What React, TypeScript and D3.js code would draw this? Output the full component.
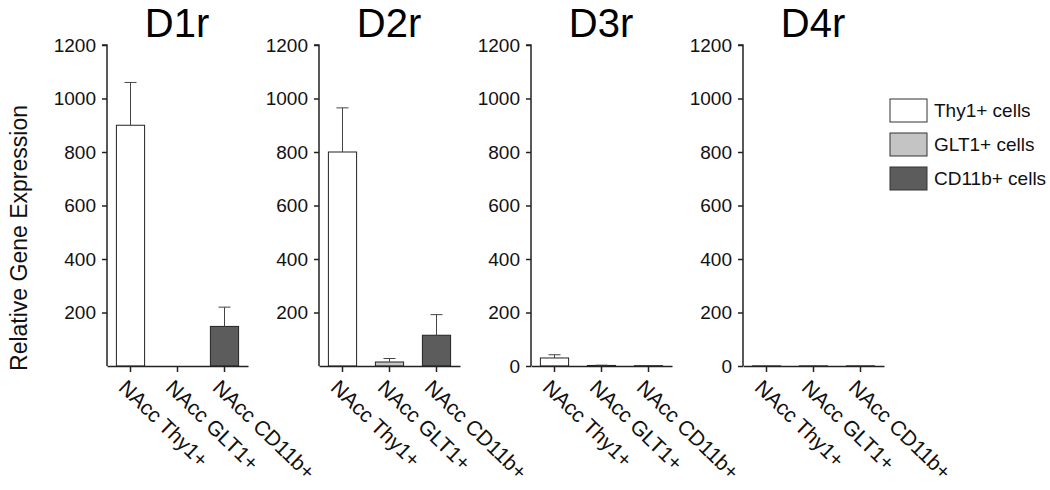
import React, { useEffect, useRef } from 'react';
import * as d3 from "d3";

const panels = ["D1r", "D2r", "D3r", "D4r"];
const groups = ["NAcc Thy1+", "NAcc GLT1+", "NAcc CD11b+"];
const cellTypes = ["Thy1+ cells", "GLT1+ cells", "CD11b+ cells"];
const colors = ["#ffffff", "#c4c4c4", "#5c5c5c"];
const yTicks = [0, 200, 400, 600, 800, 1000, 1200];

// mean expression per panel (Thy1, GLT1, CD11b)
const means = [
    [900, 0, 148],
    [800, 15, 115],
    [30, 2, 1],
    [0.5, 0.5, 0.5],
];
// error (upper only)
const errors = [
    [160, 0, 72],
    [165, 13, 77],
    [12, 1, 0],
    [0, 0, 0],
];

const App = () => {
    const svgRef = useRef<SVGSVGElement>(null);

    useEffect(() => {
        document.body.style.margin = "0";
        const svg = d3.select(svgRef.current);
        svg.selectAll("*").remove();
        const font = "Arial, 'Liberation Sans', sans-serif";

        const y = d3.scaleLinear().domain([0, 1200]).range([366, 45]);
        const panelX = d3.scalePoint().domain(panels).range([107, 743]);

        panels.forEach((p, i) => {
            const x0 = panelX(p)!;
            const x = d3.scaleBand().domain(groups).range([x0, x0 + 141]).paddingInner(0.4).paddingOuter(0.2);
            const g = svg.append("g");

            g.append("text").attr("x", x0 + 70).attr("y", 37).attr("text-anchor", "middle")
                .style("font-family", font).style("font-size", "40px").text(p);

            // bars
            g.selectAll("rect.bar").data(groups).enter().append("rect")
                .attr("x", (d) => x(d)!)
                .attr("width", x.bandwidth())
                .attr("y", (d, j) => y(means[i][j]))
                .attr("height", (d, j) => y(0) - y(means[i][j]))
                .attr("fill", (d, j) => colors[j])
                .attr("stroke", "#222").attr("stroke-width", 1);

            // error bars
            groups.forEach((grp, j) => {
                if (errors[i][j] <= 0) return;
                const cx = x(grp)! + x.bandwidth() / 2;
                const top = y(means[i][j] + errors[i][j]);
                g.append("line").attr("x1", cx).attr("x2", cx).attr("y1", y(means[i][j])).attr("y2", top)
                    .attr("stroke", "#444").attr("stroke-width", 1);
                g.append("line").attr("x1", cx - 6).attr("x2", cx + 6).attr("y1", top).attr("y2", top)
                    .attr("stroke", "#444").attr("stroke-width", 1);
            });

            // y axis
            const ya = g.append("g").attr("transform", `translate(${x0},0)`)
                .call(d3.axisLeft(y).tickValues(i < 2 ? yTicks.slice(1) : yTicks).tickSize(5).tickPadding(6).tickFormat(d3.format("d")));
            ya.select(".domain").attr("d", `M-5,${y(1200)}H0V${y(0)}`).attr("stroke", "#222").attr("stroke-width", 1.5);
            ya.selectAll(".tick line").attr("stroke", "#222").attr("stroke-width", 1.5);
            ya.selectAll("text").style("font-family", font).style("font-size", "19px").attr("fill", "#111");

            // x axis
            const xa = g.append("g").attr("transform", `translate(0,${y(0)})`)
                .call(d3.axisBottom(x).tickSize(6).tickSizeOuter(0));
            xa.select(".domain").attr("stroke", "#222").attr("stroke-width", 1.5);
            xa.selectAll(".tick line").attr("stroke", "#222").attr("stroke-width", 1.5);
            xa.selectAll("text")
                .attr("text-anchor", "start")
                .attr("dy", "0")
                .attr("y", 0)
                .attr("transform", "translate(-13,23) rotate(44)")
                .style("font-family", font).style("font-size", "21px").attr("fill", "#111");
        });

        svg.append("text").attr("transform", "translate(27,238) rotate(-90)").attr("text-anchor", "middle")
            .style("font-family", font).style("font-size", "23px").attr("fill", "#111").text("Relative Gene Expression");

        // legend
        const leg = svg.append("g").attr("transform", "translate(890,99)");
        cellTypes.forEach((c, j) => {
            leg.append("rect").attr("x", 0).attr("y", j * 34).attr("width", 37).attr("height", 23)
                .attr("fill", colors[j]).attr("stroke", "#333").attr("stroke-width", 1);
            leg.append("text").attr("x", 44).attr("y", j * 34 + 18)
                .style("font-family", font).style("font-size", "19px").attr("fill", "#111").text(c);
        });
    }, []);

    return <svg ref={svgRef} width={1050} height={490} style={{ display: "block", background: "#fff" }}></svg>;
}

export default App;
